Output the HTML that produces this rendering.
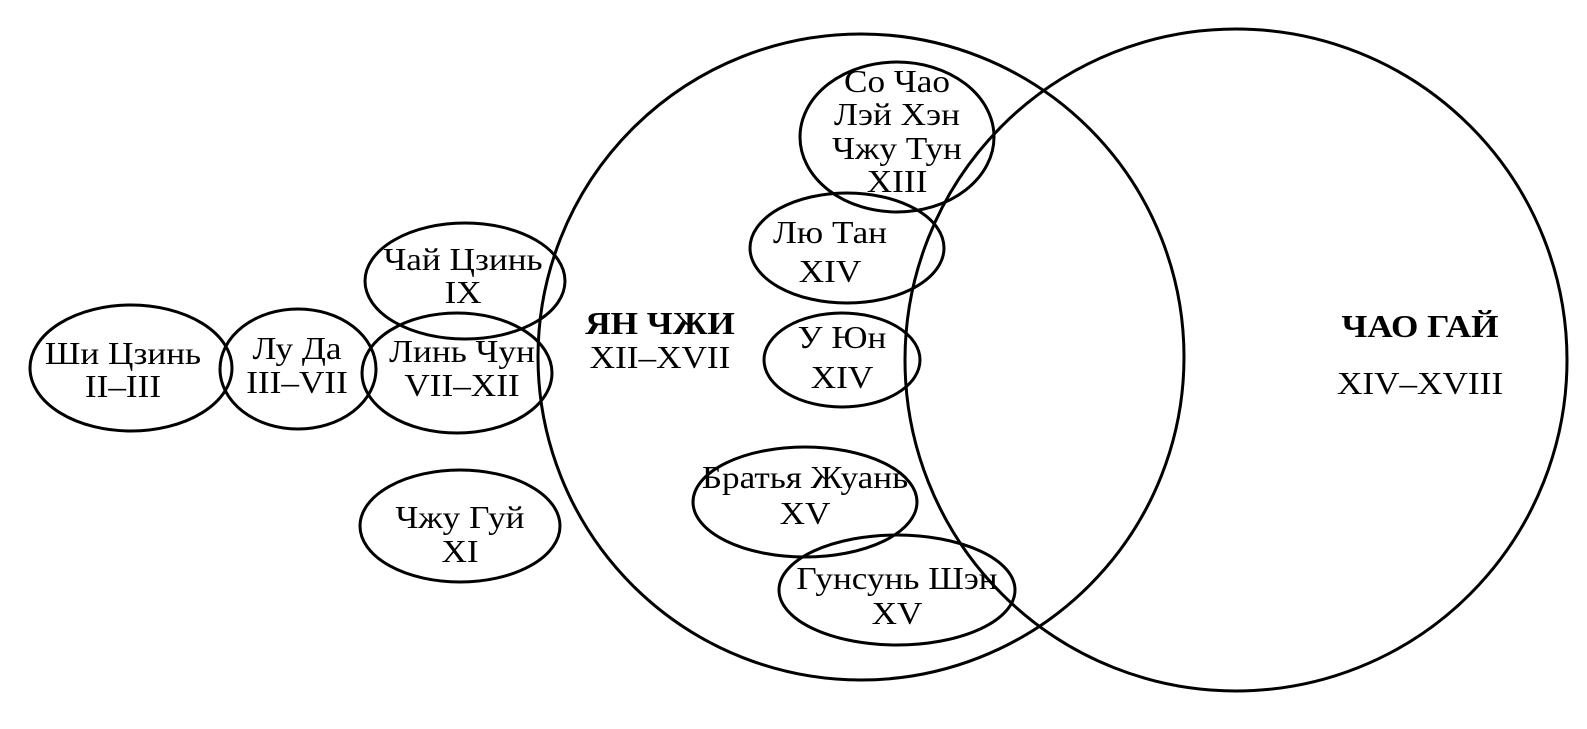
<!DOCTYPE html>
<html><head><meta charset="utf-8"><style>
html,body{margin:0;padding:0;background:#fff;}
svg{display:block;}
text{font-family:"Liberation Serif",serif;font-size:32px;fill:#000;text-anchor:middle;}
</style></head><body>
<svg width="1587" height="729" viewBox="0 0 1587 729" xmlns="http://www.w3.org/2000/svg">
<g fill="none" stroke="#000" stroke-width="3">
<circle cx="861" cy="357" r="323"/>
<circle cx="1236" cy="360" r="331"/>
<ellipse cx="131" cy="368" rx="101" ry="63"/>
<ellipse cx="298" cy="369" rx="78" ry="60"/>
<ellipse cx="457" cy="373" rx="95" ry="60"/>
<ellipse cx="465" cy="281" rx="100" ry="58"/>
<ellipse cx="460" cy="526" rx="100" ry="56"/>
<ellipse cx="897" cy="137" rx="97" ry="75"/>
<ellipse cx="847" cy="248" rx="97" ry="55"/>
<ellipse cx="842" cy="360" rx="78" ry="47"/>
<ellipse cx="805" cy="502" rx="112" ry="55"/>
<ellipse cx="897" cy="590" rx="118" ry="55"/>
</g>
<g>
<text transform="translate(123,364) scale(1.1,1)">Ши Цзинь</text><text transform="translate(123,397) scale(1.1,1)">II–III</text>
<text transform="translate(297,359) scale(1.1,1)">Лу Да</text><text transform="translate(297,393) scale(1.1,1)">III–VII</text>
<text transform="translate(462,362) scale(1.1,1)">Линь Чун</text><text transform="translate(462,396) scale(1.1,1)">VII–XII</text>
<text transform="translate(463,270) scale(1.1,1)">Чай Цзинь</text><text transform="translate(463,303) scale(1.1,1)">IX</text>
<text transform="translate(460,528) scale(1.1,1)">Чжу Гуй</text><text transform="translate(460,562) scale(1.1,1)">XI</text>
<text transform="translate(897,92) scale(1.1,1)">Со Чао</text><text transform="translate(897,125) scale(1.1,1)">Лэй Хэн</text><text transform="translate(897,159) scale(1.1,1)">Чжу Тун</text><text transform="translate(897,192) scale(1.1,1)">XIII</text>
<text transform="translate(830,243) scale(1.1,1)">Лю Тан</text><text transform="translate(830,282) scale(1.1,1)">XIV</text>
<text transform="translate(842,348) scale(1.1,1)">У Юн</text><text transform="translate(842,388) scale(1.1,1)">XIV</text>
<text transform="translate(805,488) scale(1.1,1)">Братья Жуань</text><text transform="translate(805,524) scale(1.1,1)">XV</text>
<text transform="translate(897,589) scale(1.1,1)">Гунсунь Шэн</text><text transform="translate(897,624) scale(1.1,1)">XV</text>
<text transform="translate(660,334) scale(1.1,1)" style="font-weight:bold">ЯН ЧЖИ</text><text transform="translate(660,368) scale(1.1,1)">XII–XVII</text>
<text transform="translate(1420,337) scale(1.1,1)" style="font-weight:bold">ЧАО ГАЙ</text><text transform="translate(1420,394) scale(1.1,1)">XIV–XVIII</text>
</g>
</svg>
</body></html>
